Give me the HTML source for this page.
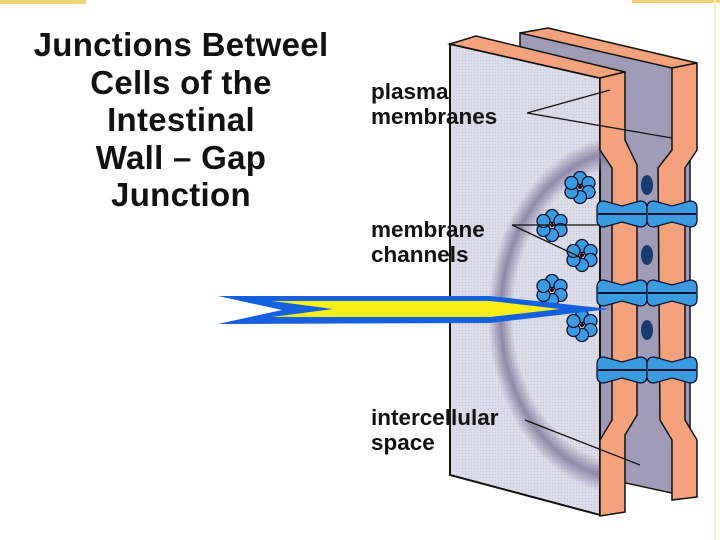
<!DOCTYPE html>
<html><head><meta charset="utf-8"><style>
body{margin:0;width:720px;height:540px;background:#fff;overflow:hidden;position:relative;font-family:"Liberation Sans",sans-serif}
.t{position:absolute;left:0;width:362px;text-align:center;font-weight:bold;font-size:33px;line-height:37.5px;top:26px;color:#111;white-space:nowrap;letter-spacing:0.3px}
.l{position:absolute;left:371px;font-weight:bold;font-size:22.5px;line-height:25px;color:#111}
</style></head><body>
<div style="position:absolute;left:0;top:0;width:86px;height:4px;background:#f2d27a"></div>
<div style="position:absolute;left:632px;top:0;width:88px;height:3px;background:#f2d27a"></div>
<div style="position:absolute;left:714px;top:0;width:2px;height:540px;background:#f8eec8"></div>
<svg width="720" height="540" style="position:absolute;left:0;top:0">
<defs>
<pattern id="d" width="3" height="3" patternUnits="userSpaceOnUse"><rect width="3" height="3" fill="#dcdbe8"/><rect width="1" height="1" fill="#c8c6d8"/></pattern>
<radialGradient id="h" cx="0.5" cy="0.5" r="0.5">
<stop offset="0.82" stop-color="#7a7598" stop-opacity="0"/>
<stop offset="0.91" stop-color="#7a7598" stop-opacity="0.8"/>
<stop offset="1" stop-color="#7a7598" stop-opacity="0"/>
</radialGradient>
<clipPath id="cp"><polygon points="450,44 612,80 612,515 450,475"/></clipPath>
<g id="f"><g stroke="#0a1030" stroke-width="1.3" fill="#3a9be0">
<circle cx="0" cy="-9" r="6.5"/><circle cx="8.5" cy="-4" r="6.5"/><circle cx="8.5" cy="5" r="6.5"/><circle cx="0" cy="10" r="6.5"/><circle cx="-8.5" cy="5" r="6.5"/><circle cx="-8.5" cy="-4" r="6.5"/></g><circle r="2" fill="#300"/></g>
<g id="h1" stroke="#0a1030" stroke-width="1.3" fill="#3a9be0">
<path d="M0,-13 q-7,0 -7,7 l0,12 q0,7 7,7 l18,-5 l18,5 q7,0 7,-7 l0,-12 q0,-7 -7,-7 l-18,5z"/>
<line x1="-6" y1="0" x2="42" y2="0" stroke-width="2"/></g>
<g id="c"><use href="#h1" x="0"/><use href="#h1" x="50"/></g>
</defs>
<!-- back panel -->
<polygon points="520,33 690,66 690,497 520,460" fill="#a09cb8" stroke="#111" stroke-width="1.5"/>
<polygon points="520,33 548,28 697,63 672,68" fill="#f4a27c" stroke="#111" stroke-width="1.5"/>
<path d="M672,68 L697,63 L697,150 L685,168 L685,420 L697,440 L697,497 L672,500 L672,440 L660,420 L658,168 L672,150Z" fill="#f4a27c" stroke="#111" stroke-width="1.5"/>
<g fill="#1a3a70"><ellipse cx="647" cy="185" rx="6" ry="10"/><ellipse cx="647" cy="255" rx="6" ry="10"/><ellipse cx="647" cy="330" rx="6" ry="10"/></g>
<!-- front panel -->
<polygon points="450,44 600,78 600,515 450,475" fill="url(#d)" stroke="#111" stroke-width="2"/>
<ellipse cx="628" cy="315" rx="140" ry="180" fill="url(#h)" clip-path="url(#cp)"/>
<polygon points="450,44 476,36 625,72 600,78" fill="#f4a27c" stroke="#111" stroke-width="1.5"/>
<path d="M600,78 L625,72 L625,140 L637,165 L637,415 L625,435 L625,512 L600,516 L600,440 L612,420 L612,168 L600,150Z" fill="#f4a27c" stroke="#111" stroke-width="1.5"/>
<use href="#f" x="580" y="187"/><use href="#f" x="552" y="225"/><use href="#f" x="582" y="255"/><use href="#f" x="552" y="290"/><use href="#f" x="582" y="325"/>
<use href="#c" x="604" y="214"/><use href="#c" x="604" y="293"/><use href="#c" x="604" y="370"/>
<!-- arrow -->
<polygon points="218,296 490,296 610,309 490,323 218,324 282,310" fill="#1560e0"/>
<polygon points="272,301 490,301 560,309 490,317 272,317 333,309" fill="#f8f018"/>
<!-- leader lines -->
<g stroke="#111" stroke-width="1.3" fill="none">
<path d="M527,113 L610,90 M527,113 L672,138"/>
<path d="M512,225 L600,225 M512,225 L582,258"/>
<path d="M525,420 L640,465"/>
</g>
</svg>
<div class="t">Junctions Betweel<br>Cells of the<br>Intestinal<br>Wall – Gap<br>Junction</div>
<div class="l" style="top:79px">plasma<br>membranes</div>
<div class="l" style="top:217px">membrane<br>channels</div>
<div class="l" style="top:405px">intercellular<br>space</div>
</body></html>
